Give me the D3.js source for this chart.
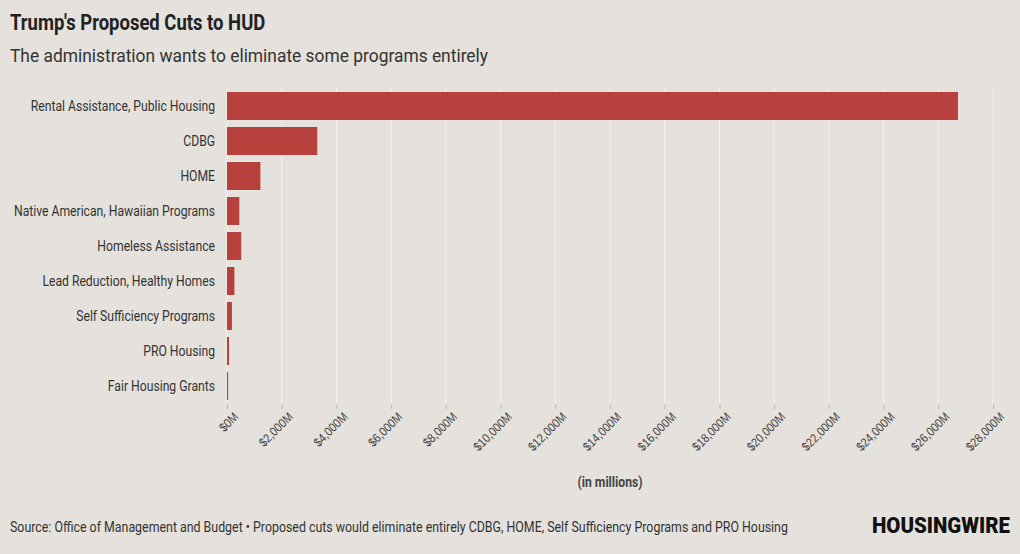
<!DOCTYPE html><html><head><meta charset="utf-8">
<script src="https://cdn.jsdelivr.net/npm/d3@7"></script>
<style>body{margin:0;background:#e5e1dc;}svg{display:block;font-family:"Roboto",sans-serif;}</style></head><body>
<svg id="c" width="1020" height="554"></svg>
<script>
const categories=["Rental Assistance, Public Housing","CDBG","HOME","Native American, Hawaiian Programs","Homeless Assistance","Lead Reduction, Healthy Homes","Self Sufficiency Programs","PRO Housing","Fair Housing Grants"];
const values=[26720,3300,1220,450,520,270,180,75,40];
const tickValues=d3.range(0,28001,2000);
const K=0.87;
const svg=d3.select("#c");
svg.append("rect").attr("width",1020).attr("height",554).attr("fill","#e5e1dc");
const x=d3.scaleLinear().domain([0,28000]).range([227,993]);
const y=d3.scaleBand().domain(categories).range([88.5,403.5]).paddingInner(0.2).paddingOuter(0.1);
function ct(px,py,anchor,size,txt,opts={}){
  const g=svg.append("g").attr("transform",`translate(${px},${py}) scale(${opts.k||K},1)`);
  const t=g.append("text").attr("text-anchor",anchor).attr("font-size",size).attr("fill",opts.fill||"#333").text(txt);
  if(opts.bold)t.attr("font-weight",opts.bold);
  if(opts.dy)t.attr("dy",opts.dy);
  return t;
}
svg.append("g").selectAll("line").data(tickValues).join("line")
 .attr("x1",d=>x(d)).attr("x2",d=>x(d)).attr("y1",88).attr("y2",404).attr("stroke","#f3f1ee").attr("stroke-width",1);
svg.append("g").selectAll("rect").data(values).join("rect")
 .attr("x",x(0)).attr("y",(d,i)=>y(categories[i])).attr("height",y.bandwidth())
 .attr("width",d=>x(d)-x(0)).attr("fill","#b8403d");
categories.forEach(c=>ct(215,y(c)+y.bandwidth()/2,"end",14,c,{dy:"0.35em"}));
const ax=svg.append("g").attr("transform","translate(0,404)").call(d3.axisBottom(x).tickValues(tickValues).tickSize(5).tickFormat(d=>"$"+d3.format(",")(d)+"M"));
ax.select(".domain").remove();
ax.selectAll("line").attr("stroke","#bbb");
ax.selectAll("text").attr("font-size",12.5).attr("fill","#444").attr("text-anchor","end")
 .attr("transform",`translate(4,6) rotate(-45) scale(${K},1)`).attr("dy","0.7em").attr("y",2).attr("x",0);
ct(610,487,"middle",14,"(in millions)",{bold:"bold",fill:"#444"});
ct(10,30,"start",22,"Trump's Proposed Cuts to HUD",{bold:"bold",fill:"#222",k:0.84});
ct(10,62,"start",19,"The administration wants to eliminate some programs entirely",{k:0.915});
ct(10,532,"start",14,"Source: Office of Management and Budget • Proposed cuts would eliminate entirely CDBG, HOME, Self Sufficiency Programs and PRO Housing",{k:0.885});
ct(1010,533,"end",22,"HOUSINGWIRE",{bold:"900",fill:"#111",k:0.93});
</script></body></html>
